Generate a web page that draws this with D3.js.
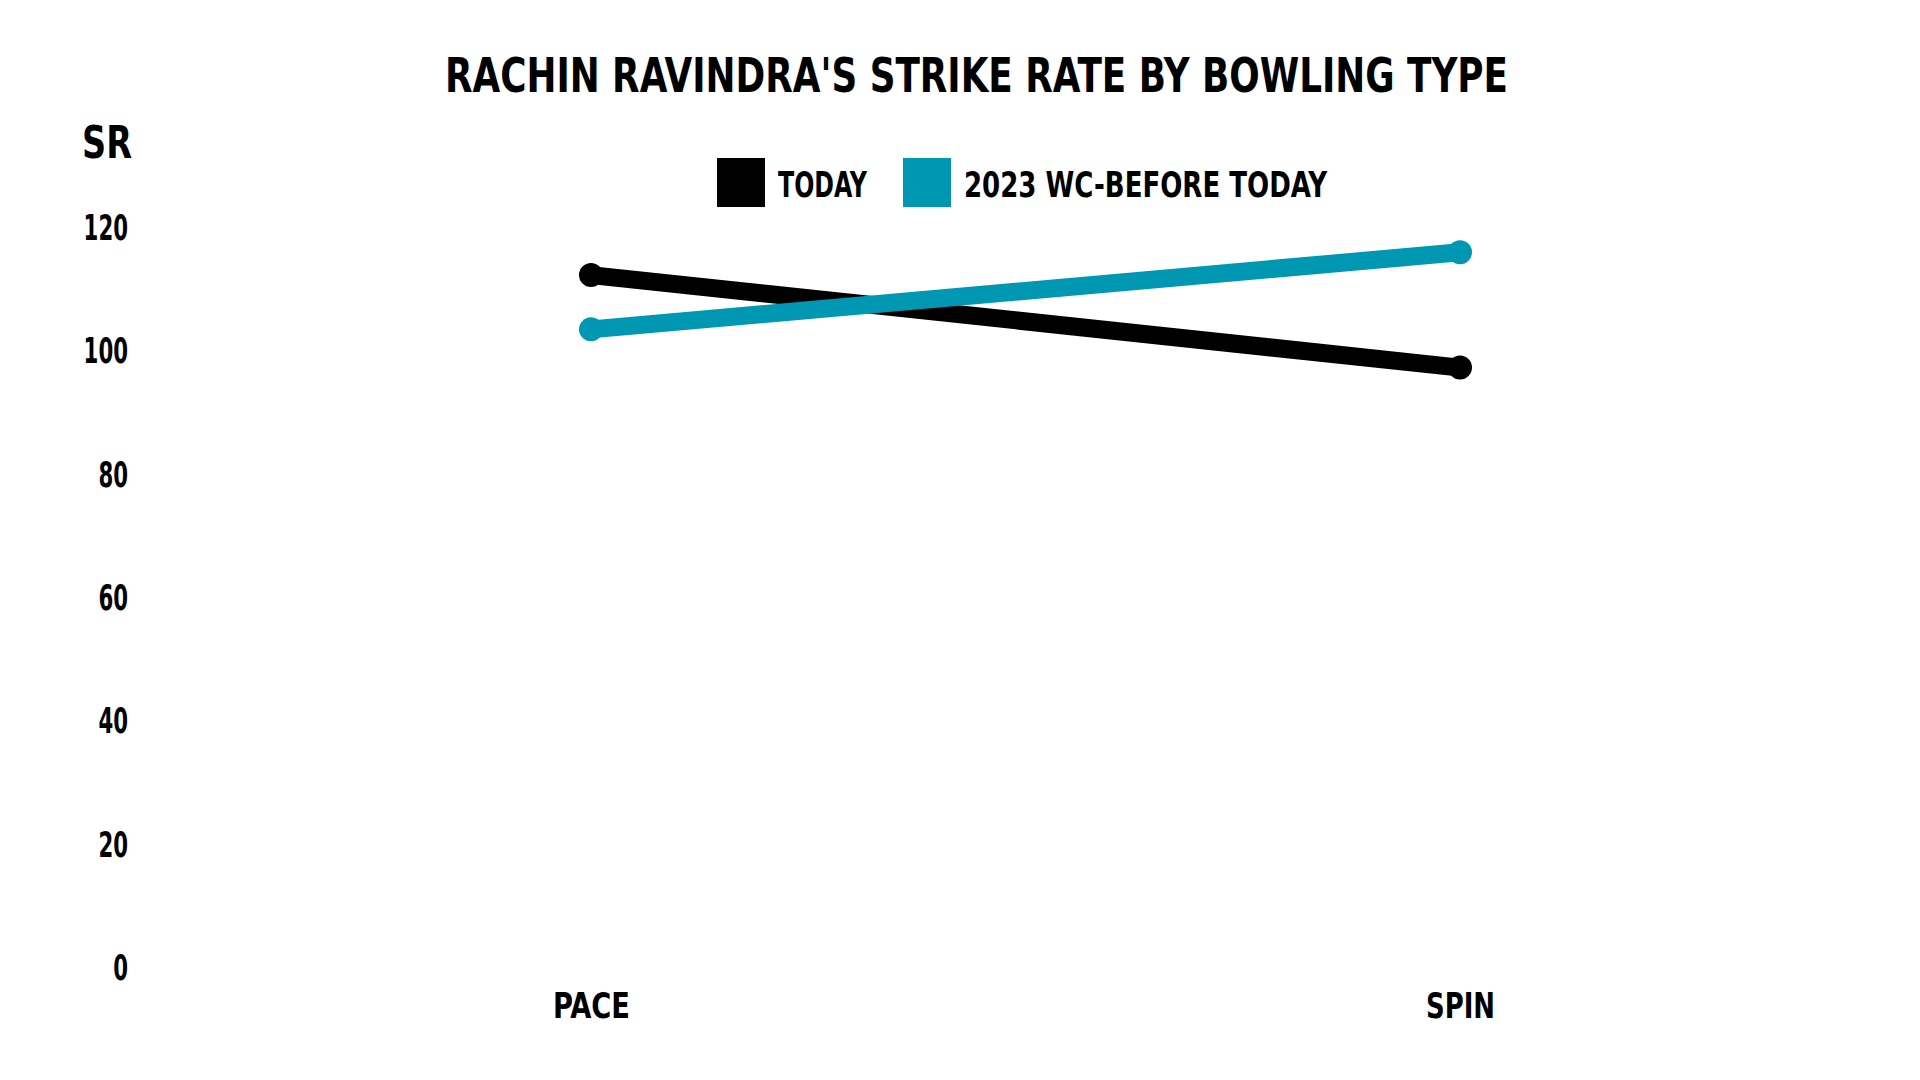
<!DOCTYPE html>
<html>
<head>
<meta charset="utf-8">
<script src="https://cdn.jsdelivr.net/npm/d3@7"></script>
<style>
  html, body { margin: 0; padding: 0; background: #ffffff; }
  svg text { font-family: "DejaVu Sans Condensed", "DejaVu Sans", sans-serif; font-stretch: condensed; font-weight: bold; fill: #000; }
</style>
</head>
<body>
<svg id="chart" width="1920" height="1080"></svg>
<script>
const categories = ["PACE", "SPIN"];
const seriesNames = ["TODAY", "2023 WC-BEFORE TODAY"];
const todayValues = [112.2, 97.2];
const beforeValues = [103.4, 115.9];
const yTicks = [0, 20, 40, 60, 80, 100, 120];
const colors = ["#000000", "#0097b2"];

const svg = d3.select("#chart");
const x = d3.scalePoint().domain(categories).range([591, 1460]);
const y = d3.scaleLinear().domain([0, 120]).range([967, 227]);

// Title
svg.append("text")
  .attr("x", 445).attr("y", 92)
  .attr("font-size", 48)
  .attr("textLength", 1063).attr("lengthAdjust", "spacingAndGlyphs")
  .text("RACHIN RAVINDRA'S STRIKE RATE BY BOWLING TYPE");

// Y axis title
svg.append("text")
  .attr("x", 82).attr("y", 158)
  .attr("font-size", 45)
  .attr("textLength", 50).attr("lengthAdjust", "spacingAndGlyphs")
  .text("SR");

// Y axis
const yAxis = d3.axisLeft(y).tickValues(yTicks).tickSize(0).tickPadding(0);
const gy = svg.append("g").attr("transform", "translate(128,0)").call(yAxis);
gy.attr("font-family", null).attr("font-size", null);
gy.select(".domain").remove();
gy.selectAll("text")
  .attr("font-size", 35)
  .attr("dy", "0.36em")
  .attr("fill", "#000")
  .attr("textLength", d => String(d).length * 14.8)
  .attr("lengthAdjust", "spacingAndGlyphs");

// X axis
const xAxis = d3.axisBottom(x).tickSize(0).tickPadding(0);
const gx = svg.append("g").attr("transform", "translate(0,1005)").call(xAxis);
gx.attr("font-family", null).attr("font-size", null);
gx.select(".domain").remove();
const xLabelWidths = [77, 69];
gx.selectAll("text")
  .attr("font-size", 36)
  .attr("dy", "0.36em")
  .attr("fill", "#000")
  .attr("textLength", (d, i) => xLabelWidths[i])
  .attr("lengthAdjust", "spacingAndGlyphs");

// Legend
const legendItems = [
  { name: seriesNames[0], color: colors[0], rx: 717, tx: 778, tw: 89 },
  { name: seriesNames[1], color: colors[1], rx: 903, tx: 964, tw: 363 }
];
legendItems.forEach(d => {
  svg.append("rect").attr("x", d.rx).attr("y", 158).attr("width", 48).attr("height", 49).attr("fill", d.color);
  svg.append("text").attr("x", d.tx).attr("y", 197).attr("font-size", 35)
    .attr("textLength", d.tw).attr("lengthAdjust", "spacingAndGlyphs")
    .text(d.name);
});

// Lines
const series = [
  { name: seriesNames[0], values: todayValues, color: colors[0] },
  { name: seriesNames[1], values: beforeValues, color: colors[1] }
];
const line = d3.line().x((d, i) => x(categories[i])).y(d => y(d));
series.forEach(s => {
  svg.append("path").datum(s.values)
    .attr("d", line).attr("fill", "none")
    .attr("stroke", s.color).attr("stroke-width", 18);
  svg.selectAll(null).data(s.values).enter().append("circle")
    .attr("cx", (d, i) => x(categories[i])).attr("cy", d => y(d))
    .attr("r", 12).attr("fill", s.color);
});
</script>
</body>
</html>
